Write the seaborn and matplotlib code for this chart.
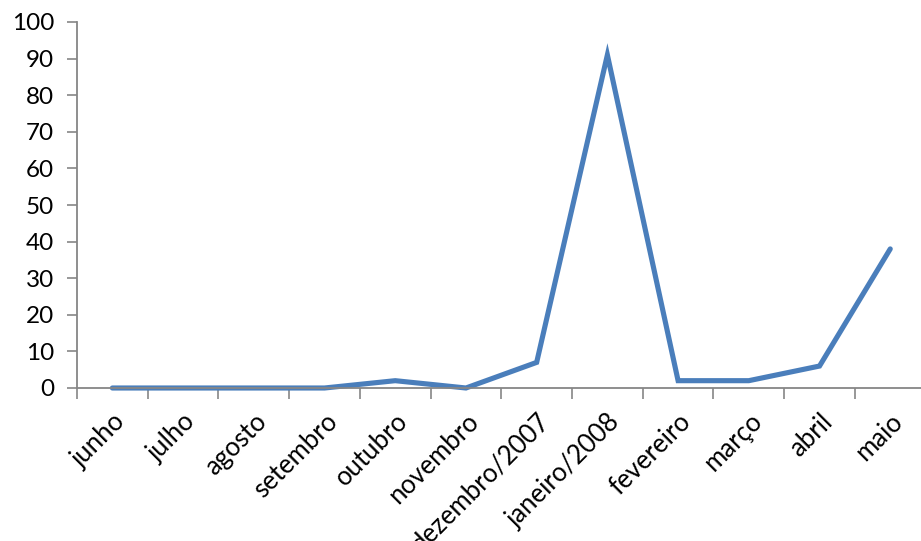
import matplotlib
matplotlib.use("Agg")
import matplotlib.pyplot as plt
import matplotlib.transforms as mtransforms
import seaborn as sns
import pandas as pd
import numpy as np

months = ["junho", "julho", "agosto", "setembro", "outubro", "novembro",
          "dezembro/2007", "janeiro/2008", "fevereiro", "março", "abril", "maio"]
values = [0, 0, 0, 0, 2, 0, 7, 91, 2, 2, 6, 38]
y_ticks = list(range(0, 101, 10))

sns.set_theme(style="white")
plt.rcParams['font.family'] = ['Lato', 'DejaVu Sans']

df = pd.DataFrame({"x": np.arange(len(months)), "v": values})

fig = plt.figure(figsize=(9.21, 5.41), dpi=100)
W, H = 921, 541
left, right, top, bottom = 77, 925.6, 22, 388
ax = fig.add_axes([left / W, 1 - bottom / H, (right - left) / W, (bottom - top) / H])

sns.lineplot(data=df, x="x", y="v", ax=ax, color="#4a7ebb", linewidth=3.7,
             solid_joinstyle="miter", clip_on=False)

ax.set_xlim(-0.5, len(months) - 0.5)
ax.set_ylim(0, 100)
ax.set_yticks(y_ticks)
ax.set_yticklabels([str(t) for t in y_ticks], fontsize=17.5, color="#000000")
ax.set_xticks(np.arange(len(months) + 1) - 0.5)
ax.set_xticklabels([])
ax.set_xticks(np.arange(len(months)), minor=True)
ax.set_xticklabels(months, minor=True, rotation=45, ha="right",
                   rotation_mode="anchor", fontsize=18.5, color="#000000")
shift = mtransforms.ScaledTranslation(-5 / 100, 0, fig.dpi_scale_trans)
for lab in ax.get_xticklabels(minor=True):
    lab.set_transform(lab.get_transform() + shift)
ax.tick_params(axis="x", which="minor", length=0, pad=15)
ax.tick_params(axis="x", which="major", length=8, width=1.2, color="#868686",
               direction="out", bottom=True)
ax.tick_params(axis="y", length=7, width=1.2, color="#868686", direction="out",
               left=True, pad=9.5)
ax.set_xlabel("")
ax.set_ylabel("")
for s in ["top", "right"]:
    ax.spines[s].set_visible(False)
for s in ["left", "bottom"]:
    ax.spines[s].set_color("#868686")
    ax.spines[s].set_linewidth(1.3)
ax.grid(False)

fig.savefig("out.png", dpi=100)
